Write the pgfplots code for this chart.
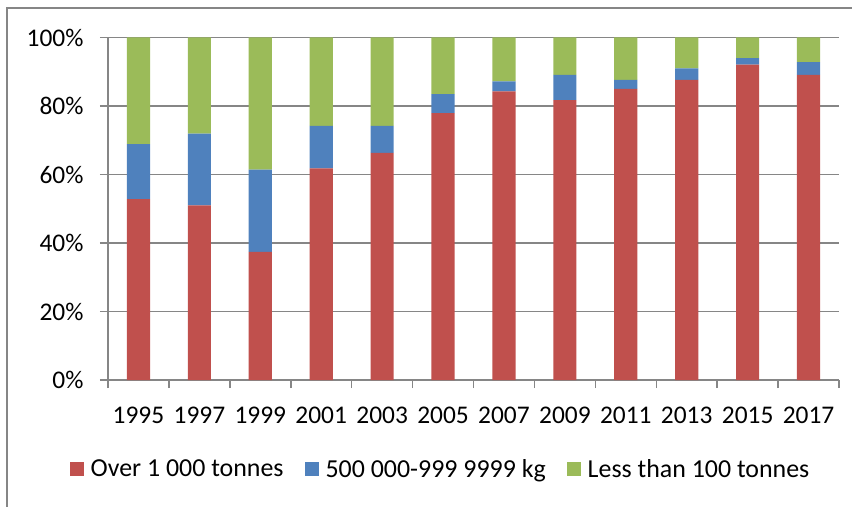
\documentclass[border=0pt]{standalone}
\usepackage{fontspec}
\setmainfont{Carlito}
\usepackage{pgfplots}
\pgfplotsset{compat=1.18}
\usepackage{pgfplotstable}
\definecolor{cred}{RGB}{192,80,77}
\definecolor{cblue}{RGB}{79,129,189}
\definecolor{cgreen}{RGB}{155,187,89}
\definecolor{cgrid}{RGB}{134,134,134}
\pgfplotstableread{
x red blue green
0 52.8 16.1 31.1
1 51.0 20.9 28.1
2 37.4 24.0 38.6
3 61.8 12.4 25.8
4 66.3 7.9 25.8
5 77.9 5.6 16.5
6 84.3 2.9 12.8
7 81.7 7.4 10.9
8 85.0 2.6 12.4
9 87.6 3.4 9.0
10 92.1 1.9 6.0
11 89.1 3.7 7.2
}\data
\pgfplotsset{sqlegend/.style={legend image code/.code={\fill[##1] (0bp,-7bp) rectangle (14bp,7bp);}}}
\begin{document}
\begin{tikzpicture}
\path[use as bounding box] (-108bp,-127bp) rectangle (744bp,380bp);
\draw[cgrid, line width=1.2bp] (-101bp,-127bp) -- (-101bp,372bp) -- (744bp,372bp);
\begin{axis}[
  at={(0,0)}, anchor=south west,
  width=731bp, height=342.5bp, scale only axis,
  ybar stacked, bar width=0.38,
  xmin=-0.5, xmax=11.5, ymin=0, ymax=100,
  enlargelimits=false,
  xtick={0,...,11},
  xticklabels={1995,1997,1999,2001,2003,2005,2007,2009,2011,2013,2015,2017},
  major x tick style={draw=none},
  minor xtick={-0.5,0.5,...,11.5},
  ytick={0,20,40,60,80,100},
  yticklabels={0\%,20\%,40\%,60\%,80\%,100\%},
  ymajorgrids, grid style={cgrid, line width=1.5bp},
  axis x line*=bottom, axis y line*=left,
  axis line style={cgrid, line width=1.5bp, -},
  tick style={cgrid, line width=1.5bp},
  tick align=outside, major tick length=8bp, minor tick length=8bp,
  ticklabel style={font=\fontsize{25.5}{30}\selectfont, text=black},
  xticklabel style={yshift=-15bp},
  yticklabel style={xshift=-13bp},
  /pgf/number format/assume math mode=true,
  legend style={at={(0.4535,-0.26)}, anchor=center, draw=none, fill=none,
    legend columns=3, font=\fontsize{26}{30}\selectfont,
    /tikz/every even column/.append style={column sep=21bp},
    /tikz/every odd column/.append style={column sep=7bp},
    nodes={inner sep=0pt}},
]
\addplot[fill=cred, draw=none, sqlegend] table[x=x, y=red] {\data};
\addlegendentry{Over 1 000 tonnes}
\addplot[fill=cblue, draw=none, sqlegend] table[x=x, y=blue] {\data};
\addlegendentry{500 000-999 9999 kg}
\addplot[fill=cgreen, draw=none, sqlegend] table[x=x, y=green] {\data};
\addlegendentry{Less than 100 tonnes}
\end{axis}
\end{tikzpicture}
\end{document}
